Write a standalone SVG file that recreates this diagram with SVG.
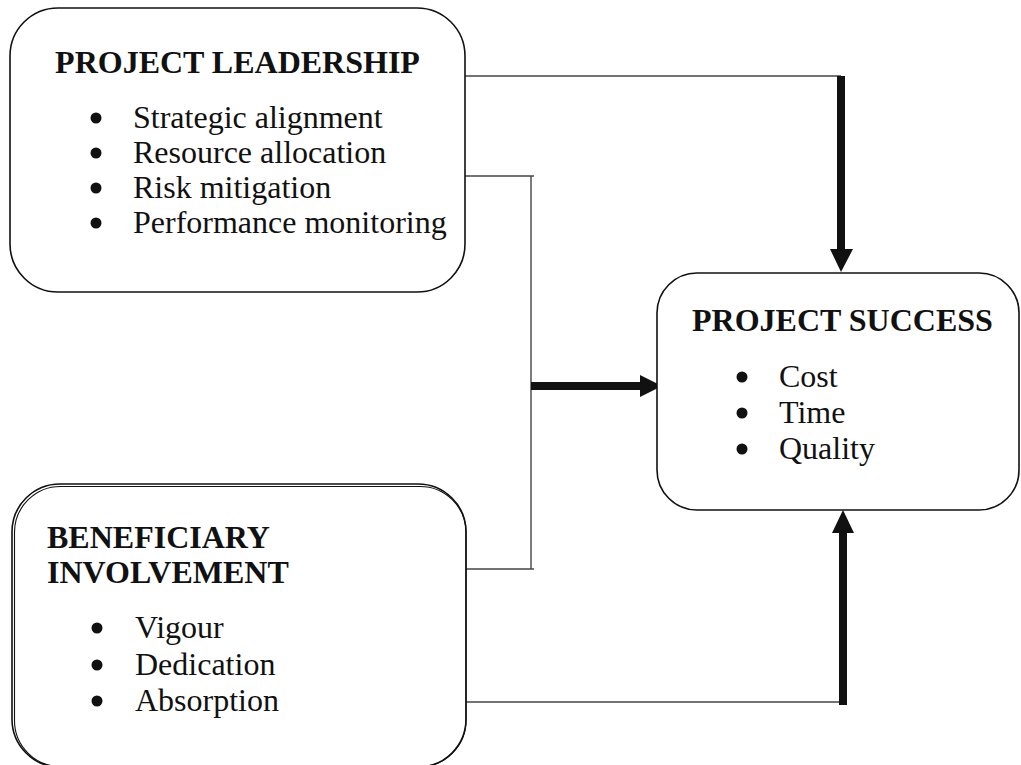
<svg xmlns="http://www.w3.org/2000/svg" width="1021" height="765" viewBox="0 0 1021 765">
  <style>
    .box { fill: #ffffff; stroke: #111111; stroke-width: 1.6; }
    .box2 { fill: none; stroke: #111111; stroke-width: 1.1; }
    .title { font-family: "Liberation Serif", "Times New Roman", serif; font-size: 32px; font-weight: bold; fill: #111111; }
    .item { font-family: "Liberation Serif", "Times New Roman", serif; font-size: 32px; fill: #111111; }
    .dot { fill: #111111; }
    .thin { fill: none; stroke: #444444; stroke-width: 1.4; }
    .thick { fill: none; stroke: #111111; stroke-width: 8; }
    .head { fill: #111111; }
  </style>
  <rect width="1021" height="765" fill="#ffffff"/>

  <!-- connectors -->
  <g id="connectors">
    <!-- leadership to success (top) -->
    <polyline class="thin" points="465,76 841,76"/>
    <line class="thick" x1="841" y1="76" x2="841" y2="250"/>
    <polygon class="head" points="830,249 853,249 841,272"/>
    <!-- bracket joining both factors -->
    <polyline class="thin" points="465,176 534,176"/>
    <polyline class="thin" points="466,569 534,569"/>
    <line class="thin" x1="531" y1="176" x2="531" y2="569"/>
    <line class="thick" x1="531" y1="386" x2="641" y2="386"/>
    <polygon class="head" points="640,375 640,397 662,386"/>
    <!-- involvement to success (bottom) -->
    <polyline class="thin" points="466,702 843,702"/>
    <line class="thick" x1="843" y1="705" x2="843" y2="532"/>
    <polygon class="head" points="832,533 854,533 843,510"/>
  </g>

  <!-- project leadership -->
  <g id="node-leadership">
    <rect class="box" x="10" y="8" width="455" height="284" rx="48" ry="48"/>
    <text class="title" x="237.5" y="73" text-anchor="middle">PROJECT LEADERSHIP</text>
    <circle class="dot" cx="96" cy="118" r="5.5"/>
    <circle class="dot" cx="96" cy="153" r="5.5"/>
    <circle class="dot" cx="96" cy="188" r="5.5"/>
    <circle class="dot" cx="96" cy="223" r="5.5"/>
    <text class="item" x="133" y="128">Strategic alignment</text>
    <text class="item" x="133" y="163">Resource allocation</text>
    <text class="item" x="133" y="198">Risk mitigation</text>
    <text class="item" x="133" y="233">Performance monitoring</text>
  </g>

  <!-- project success -->
  <g id="node-success">
    <rect class="box" x="657" y="273" width="362" height="237" rx="40" ry="40"/>
    <text class="title" x="692" y="331">PROJECT SUCCESS</text>
    <circle class="dot" cx="742" cy="377" r="5.5"/>
    <circle class="dot" cx="742" cy="413" r="5.5"/>
    <circle class="dot" cx="742" cy="449" r="5.5"/>
    <text class="item" x="779" y="387">Cost</text>
    <text class="item" x="779" y="423">Time</text>
    <text class="item" x="779" y="459">Quality</text>
  </g>

  <!-- beneficiary involvement -->
  <g id="node-involvement">
    <rect class="box" x="12" y="484" width="454" height="283" rx="48" ry="48"/>
    <rect class="box2" x="14.5" y="486.5" width="451.5" height="280" rx="46" ry="46"/>
    <text class="title" x="47" y="548">BENEFICIARY</text>
    <text class="title" x="47" y="583">INVOLVEMENT</text>
    <circle class="dot" cx="97" cy="628" r="5.5"/>
    <circle class="dot" cx="97" cy="665" r="5.5"/>
    <circle class="dot" cx="97" cy="701" r="5.5"/>
    <text class="item" x="135" y="638">Vigour</text>
    <text class="item" x="135" y="675">Dedication</text>
    <text class="item" x="135" y="711">Absorption</text>
  </g>
</svg>
